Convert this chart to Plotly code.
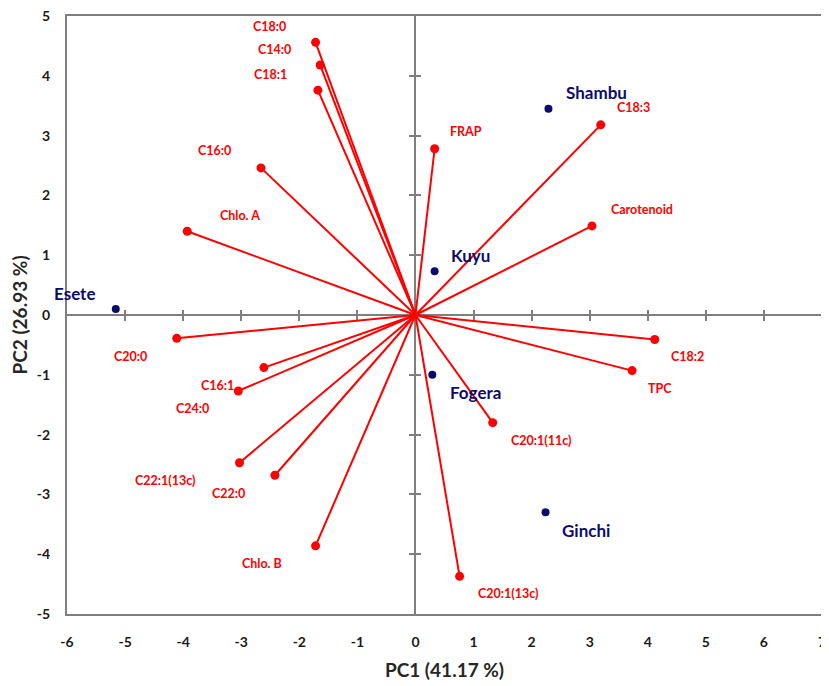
import plotly.graph_objects as go

# ---------------- data ----------------
variables = ["C18:0", "C14:0", "C18:1", "C16:0", "Chlo. A", "FRAP", "C18:3",
             "Carotenoid", "C20:0", "C16:1", "C24:0", "C22:1(13c)", "C22:0",
             "Chlo. B", "C18:2", "TPC", "C20:1(11c)", "C20:1(13c)"]
var_pc1 = [-1.72, -1.64, -1.68, -2.66, -3.93, 0.33, 3.19,
           3.04, -4.11, -2.61, -3.05, -3.03, -2.42,
           -1.72, 4.12, 3.73, 1.33, 0.76]
var_pc2 = [4.56, 4.18, 3.76, 2.46, 1.40, 2.78, 3.18,
           1.49, -0.39, -0.88, -1.27, -2.47, -2.68,
           -3.86, -0.41, -0.93, -1.80, -4.37]

samples = ["Esete", "Shambu", "Kuyu", "Fogera", "Ginchi"]
samp_pc1 = [-5.16, 2.29, 0.33, 0.29, 2.24]
samp_pc2 = [0.10, 3.45, 0.73, -1.00, -3.30]

x_ticks = list(range(-6, 8))
y_ticks = list(range(-5, 6))
x_ticktext = [str(v) for v in x_ticks]
y_ticktext = [str(v) for v in y_ticks]
x_title = "PC1 (41.17 %)"
y_title = "PC2 (26.93 %)"

# label offsets in pixels (styling only)
var_label_shift = {
    "C18:0": (-46, 16), "C14:0": (-46, 16), "C18:1": (-47, 16), "C16:0": (-46, 17),
    "Chlo. A": (53, 16), "FRAP": (31, 17), "C18:3": (33, 17), "Carotenoid": (50, 16),
    "C20:0": (-46, -18), "C16:1": (-46, -18), "C24:0": (-46, -18),
    "C22:1(13c)": (-74, -18), "C22:0": (-46, -18), "Chlo. B": (-54, -18),
    "C18:2": (33, -17), "TPC": (28, -18), "C20:1(11c)": (48, -18), "C20:1(13c)": (48, -17),
}
samp_label_shift = {
    "Esete": (-41, 16), "Shambu": (48, 16), "Kuyu": (36, 16),
    "Fogera": (43, -18), "Ginchi": (40, -18),
}

RED = "#FF0000"
NAVY = "#0B0B6E"
GRAY = "#7F7F7F"
FONT = "Lato"

xr = [x_ticks[0], x_ticks[-1]]
yr = [y_ticks[0], y_ticks[-1]]

fig = go.Figure()

# vectors from origin
lx, ly = [], []
for a, b in zip(var_pc1, var_pc2):
    lx += [0, a, None]
    ly += [0, b, None]
fig.add_trace(go.Scatter(x=lx, y=ly, mode="lines",
                         line=dict(color=RED, width=2), hoverinfo="skip",
                         showlegend=False))
fig.add_trace(go.Scatter(x=var_pc1, y=var_pc2, mode="markers",
                         marker=dict(color=RED, size=9), text=variables,
                         showlegend=False))
fig.add_trace(go.Scatter(x=samp_pc1, y=samp_pc2, mode="markers",
                         marker=dict(color=NAVY, size=8), text=samples,
                         showlegend=False))
# dummy traces to activate overlay axes
for xa, ya in [("x2", "y"), ("x3", "y"), ("x", "y2"), ("x", "y3")]:
    fig.add_trace(go.Scatter(x=[], y=[], xaxis=xa, yaxis=ya, showlegend=False))

for name, a, b in zip(variables, var_pc1, var_pc2):
    dx, dy = var_label_shift[name]
    fig.add_annotation(x=a, y=b, text=name, showarrow=False, xshift=dx, yshift=dy,
                       font=dict(family=FONT, size=12.5, color=RED, weight="bold"))
for name, a, b in zip(samples, samp_pc1, samp_pc2):
    dx, dy = samp_label_shift[name]
    fig.add_annotation(x=a, y=b, text=name, showarrow=False, xshift=dx, yshift=dy,
                       font=dict(family=FONT, size=17, color=NAVY, weight="bold"))

x_zero_pos = (0 - yr[0]) / (yr[1] - yr[0])
y_zero_pos = (0 - xr[0]) / (xr[1] - xr[0])

common = dict(showgrid=False, zeroline=False, automargin=False)
fig.update_layout(
    width=821, height=678,
    margin=dict(l=59, r=7, t=8, b=72, autoexpand=False),
    paper_bgcolor="white", plot_bgcolor="white",
    font=dict(family=FONT, color="#1A1A1A"),
    xaxis=dict(range=xr, tickvals=x_ticks, ticktext=x_ticktext, ticks="",
               showline=True, mirror=True, ticklabeloverflow="allow",
               linecolor=GRAY, linewidth=2, ticklabelstandoff=14,
               tickfont=dict(size=14, weight="bold", color="#1A1A1A"),
               title=dict(text=x_title, standoff=15,
                          font=dict(size=19, weight="bold", color="#262626")),
               **common),
    yaxis=dict(range=yr, tickvals=y_ticks, ticktext=y_ticktext, ticks="",
               showline=True, mirror=True, ticklabeloverflow="allow",
               linecolor=GRAY, linewidth=2, ticklabelstandoff=12,
               tickfont=dict(size=14, weight="bold", color="#1A1A1A"),
               title=dict(text=y_title, standoff=10,
                          font=dict(size=19, weight="bold", color="#262626")),
               **common),
    xaxis2=dict(range=xr, overlaying="x", anchor="free", position=x_zero_pos,
                tickvals=x_ticks[1:-1], ticks="outside", ticklen=5, tickwidth=2,
                tickcolor=GRAY, showticklabels=False, showline=True,
                linecolor=GRAY, linewidth=2, layer="below traces", **common),
    xaxis3=dict(range=xr, overlaying="x", anchor="free", position=x_zero_pos,
                tickvals=x_ticks[1:-1], ticks="inside", ticklen=5, tickwidth=2,
                tickcolor=GRAY, showticklabels=False, showline=False,
                layer="below traces", **common),
    yaxis2=dict(range=yr, overlaying="y", anchor="free", position=y_zero_pos,
                tickvals=y_ticks[1:-1], ticks="outside", ticklen=5, tickwidth=2,
                tickcolor=GRAY, showticklabels=False, showline=True,
                linecolor=GRAY, linewidth=2, layer="below traces", **common),
    yaxis3=dict(range=yr, overlaying="y", anchor="free", position=y_zero_pos,
                tickvals=y_ticks[1:-1], ticks="inside", ticklen=5, tickwidth=2,
                tickcolor=GRAY, showticklabels=False, showline=False,
                layer="below traces", **common),
)

fig.write_html("out.html")
